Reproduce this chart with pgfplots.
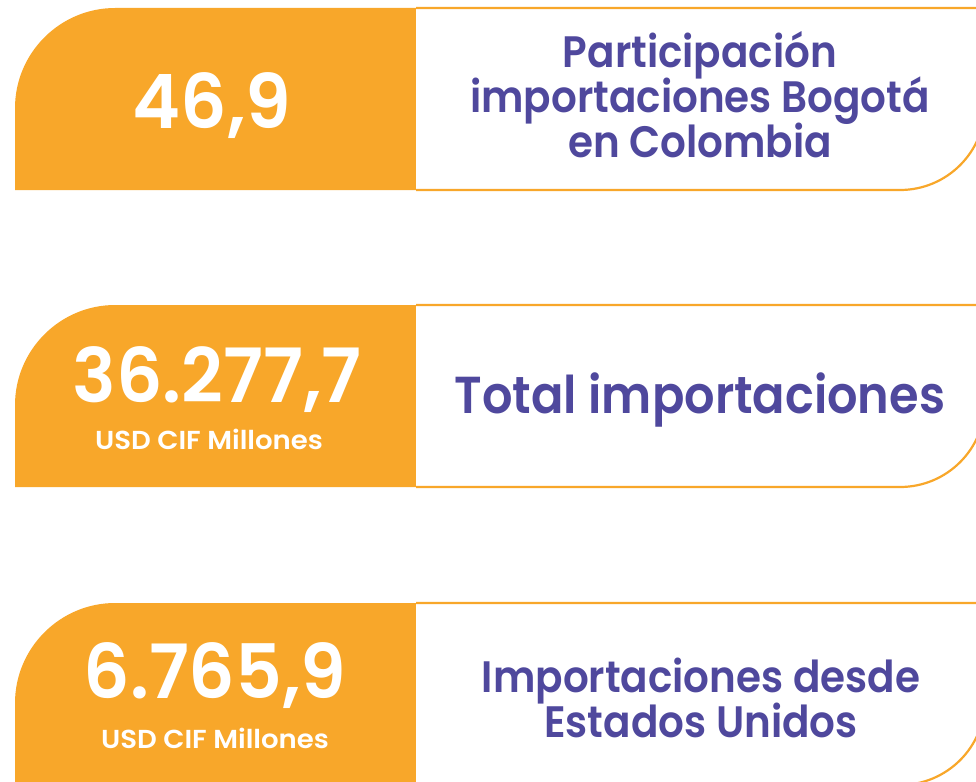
\documentclass[border=0pt]{standalone}
\usepackage{pgfplots}
\pgfplotsset{compat=1.18}
\usepackage{pgfplotstable}
\usepackage{fontspec}
\setmainfont{Poppins}
\newfontfamily\fnum{Poppins}[FakeStretch=0.97, BoldFont={Poppins SemiBold}]
\newfontfamily\ftit{Poppins}[FakeStretch=0.92, BoldFont={Poppins SemiBold}]
\newfontfamily\fsub{Poppins}[FakeStretch=1.06, BoldFont={Poppins SemiBold}]
\definecolor{naranja}{HTML}{F8A72A}
\definecolor{morado}{HTML}{4F489D}

% valores (x, y de la linea base del numero, valor)
\pgfplotstableread{
x   y    valor
212 129  46.9
217 402  36277.7
215 698  6765.9
}\valores

\newcommand{\tarjeta}[1]{% #1 = borde superior (px)
  \fill[naranja] (axis cs:15,#1+182) -- (axis cs:15,#1+100)
    .. controls (axis cs:15,#1+45) and (axis cs:60,#1) .. (axis cs:115,#1)
    -- (axis cs:420,#1) -- (axis cs:420,#1+182) -- cycle;
  \fill[white] (axis cs:416,#1) -- (axis cs:985,#1) -- (axis cs:985,#1+97)
    .. controls (axis cs:985,#1+144) and (axis cs:947,#1+182) .. (axis cs:900,#1+182)
    -- (axis cs:416,#1+182) -- cycle;
  \draw[naranja, line width=2.2bp] (axis cs:416,#1) -- (axis cs:985,#1) -- (axis cs:985,#1+97)
    .. controls (axis cs:985,#1+144) and (axis cs:947,#1+182) .. (axis cs:900,#1+182)
    -- (axis cs:416,#1+182);
}

\begin{document}
\begin{tikzpicture}
\begin{axis}[
    width=976bp, height=782bp, scale only axis,
    xmin=0, xmax=976, ymin=0, ymax=782,
    y dir=reverse,
    hide axis,
    clip=false,
]
\tarjeta{8}
\tarjeta{305}
\tarjeta{603}

\addplot[
    only marks, mark=none,
    point meta=explicit,
    nodes near coords={\pgfmathprintnumber[fixed, fixed zerofill, precision=1,
        use comma, 1000 sep={.}, assume math mode=true]{\pgfplotspointmeta}},
    every node near coord/.style={anchor=base, inner sep=0pt, text=white,
        font=\fnum\fontsize{75bp}{75bp}\selectfont\bfseries},
] table[x=x, y=y, meta=valor] {\valores};

\begin{scope}[every node/.style={anchor=base, inner sep=0pt}]
\node[text=white, font=\fsub\fontsize{26bp}{26bp}\selectfont\bfseries] at (axis cs:209,449) {USD CIF Millones};
\node[text=white, font=\fsub\fontsize{26bp}{26bp}\selectfont\bfseries] at (axis cs:215,748) {USD CIF Millones};

\node[text=morado, font=\ftit\fontsize{44bp}{44bp}\selectfont\bfseries] at (axis cs:700,68) {Participación};
\node[text=morado, font=\ftit\fontsize{44bp}{44bp}\selectfont\bfseries] at (axis cs:700,113) {importaciones Bogotá};
\node[text=morado, font=\ftit\fontsize{44bp}{44bp}\selectfont\bfseries] at (axis cs:700,158) {en Colombia};

\node[text=morado, font=\ftit\fontsize{52bp}{52bp}\selectfont\bfseries] at (axis cs:700,413) {Total importaciones};

\node[text=morado, font=\ftit\fontsize{44bp}{44bp}\selectfont\bfseries] at (axis cs:701,692) {Importaciones desde};
\node[text=morado, font=\ftit\fontsize{44bp}{44bp}\selectfont\bfseries] at (axis cs:701,737) {Estados Unidos};
\end{scope}
\end{axis}
\pgfresetboundingbox
\useasboundingbox (current axis.south west) rectangle (current axis.north east);
\end{tikzpicture}
\end{document}
